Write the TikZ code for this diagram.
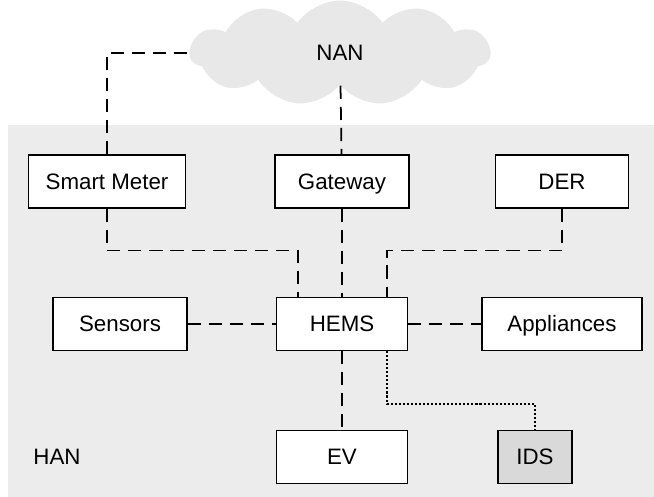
\documentclass[tikz,border=0pt]{standalone}
\usepackage{fontspec}
\setmainfont{Liberation Sans}
\usetikzlibrary{shapes.symbols}

\tikzset{
  box/.style={draw, fill=white, line width=0.6pt, minimum height=1.06cm, inner sep=0pt, text height=9pt, text depth=0pt, font=\fontsize{12.7}{15}\selectfont},
  link/.style={line width=1pt, dash pattern=on 7.5pt off 4.5pt},
  dotlink/.style={line width=1pt, dash pattern=on 1.2pt off 1.1pt}
}

\begin{document}
\begin{tikzpicture}[x=0.02cm,y=-0.02cm]
\useasboundingbox (0,0) rectangle (654,497);
\fill[gray!15] (8,125) rectangle (654,497);
\node[cloud, cloud puffs=11, cloud puff arc=110, aspect=3.1, fill=gray!18, minimum width=6cm, minimum height=2.1cm, text height=9pt, text depth=0pt, font=\fontsize{12.7}{15}\selectfont] (nan) at (340,53){NAN};
\node[box, minimum width=3.14cm] (sm) at (107,181.5){Smart Meter};
\node[box, minimum width=2.68cm] (gw) at (342,181.5){Gateway};
\node[box, minimum width=2.66cm] (der) at (562,181.5){DER};
\node[box, minimum width=2.68cm] (sensors) at (120,324){Sensors};
\node[box, minimum width=2.62cm] (hems) at (342,324){HEMS};
\node[box, minimum width=3.2cm] (app) at (562,324){Appliances};
\node[box, minimum width=2.62cm] (ev) at (342,457){EV};
\node[box, fill=gray!30, minimum width=1.48cm] (ids) at (535,457){IDS};
\node[text height=9pt, text depth=0pt, font=\fontsize{12.7}{15}\selectfont] (han) at (57,457){HAN};
\coordinate (hl) at ([xshift=-0.88cm]hems.north);
\coordinate (hr) at ([xshift=0.9cm]hems.north);
\coordinate (hb) at ([xshift=0.9cm]hems.south);
\foreach \from/\to in {nan/gw, gw/hems, sensors/hems, hems/app, hems/ev}
\draw[link] (\from) -- (\to);
\draw[link] (sm.north) |- (nan.west);
\draw[link] (sm.south) -- ++(0,42) -| (hl);
\draw[link] (der.south) -- ++(0,42) -| (hr);
\draw[dotlink] (hb) -- ++(0,53) -| (ids.north);
\end{tikzpicture}
\end{document}
